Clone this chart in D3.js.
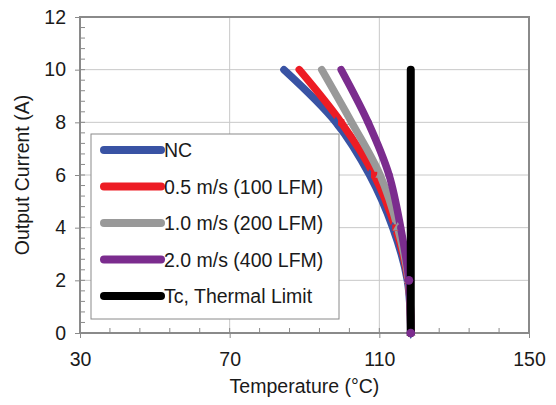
<!DOCTYPE html>
<html>
<head>
<meta charset="utf-8">
<script src="https://cdn.jsdelivr.net/npm/d3@7"></script>
<style>
  body { margin: 0; background: #fff; }
  text { font-family: "Liberation Sans", Arial, sans-serif; fill: #1a1a1a; }
</style>
</head>
<body>
<div id="chart"></div>
<script>
const currents = [0, 2, 4, 6, 8, 10];
const tempNC = [118.4, 117.5, 113.6, 107.4, 98.4, 84.5];
const temp05 = [118.4, 117.7, 114.3, 108.6, 99.8, 88.6];
const temp10 = [118.4, 117.8, 114.9, 110.2, 102.6, 94.6];
const temp20 = [118.4, 117.9, 115.7, 112.6, 107.0, 99.8];
const limitTemp = 118.4;
const limitCurrents = [0, 10];

const seriesNames = ["NC", "0.5 m/s (100 LFM)", "1.0 m/s (200 LFM)", "2.0 m/s (400 LFM)", "Tc, Thermal Limit"];
const seriesColors = ["#3953a4", "#ed1c24", "#999999", "#7b2c8e", "#000000"];
const xTicks = [30, 70, 110, 150];
const yTicks = [0, 2, 4, 6, 8, 10, 12];

const width = 556, height = 405;
const margin = { top: 17, right: 27, bottom: 72, left: 80 };
const innerWidth = width - margin.left - margin.right;
const innerHeight = height - margin.top - margin.bottom;
const fontSize = "19.5px";

const svg = d3.select("#chart").append("svg")
  .attr("width", width)
  .attr("height", height);

const xScale = d3.scaleLinear().domain([30, 150]).range([margin.left, margin.left + innerWidth]);
const yScale = d3.scaleLinear().domain([0, 12]).range([margin.top + innerHeight, margin.top]);

// grid
svg.append("g").selectAll("line")
  .data(yTicks.filter(d => d > 0 && d < 12))
  .join("line")
  .attr("x1", xScale(30)).attr("x2", xScale(150))
  .attr("y1", d => yScale(d)).attr("y2", d => yScale(d))
  .attr("stroke", "#c8c8c8").attr("stroke-width", 1);

svg.append("g").selectAll("line")
  .data(xTicks.filter(d => d > 30 && d < 150))
  .join("line")
  .attr("x1", d => xScale(d)).attr("x2", d => xScale(d))
  .attr("y1", yScale(0)).attr("y2", yScale(12))
  .attr("stroke", "#c8c8c8").attr("stroke-width", 1);

// frame
svg.append("rect")
  .attr("x", xScale(30)).attr("y", yScale(12))
  .attr("width", innerWidth).attr("height", innerHeight)
  .attr("fill", "none").attr("stroke", "#8a8a8a").attr("stroke-width", 2);

// minor ticks
const minorX = d3.range(30, 150.01, 8);
const minorY = d3.range(0, 12.01, 0.4);
svg.append("g").selectAll("line")
  .data(minorX)
  .join("line")
  .attr("x1", d => xScale(d)).attr("x2", d => xScale(d))
  .attr("y1", yScale(0)).attr("y2", yScale(0) - 5)
  .attr("stroke", "#8a8a8a");
svg.append("g").selectAll("line")
  .data(minorY)
  .join("line")
  .attr("x1", xScale(30)).attr("x2", xScale(30) + 5)
  .attr("y1", d => yScale(d)).attr("y2", d => yScale(d))
  .attr("stroke", "#8a8a8a");

// axes
const xAxis = svg.append("g")
  .attr("transform", `translate(0, ${yScale(0)})`)
  .call(d3.axisBottom(xScale).tickValues(xTicks).tickSize(5).tickPadding(14));
const yAxis = svg.append("g")
  .attr("transform", `translate(${xScale(30)}, 0)`)
  .call(d3.axisLeft(yScale).tickValues(yTicks).tickSize(5).tickPadding(9));

[xAxis, yAxis].forEach(g => {
  g.select(".domain").remove();
  g.selectAll("line").attr("stroke", "#8a8a8a");
  g.selectAll("text").style("font-size", fontSize).style("font-family", '"Liberation Sans", Arial, sans-serif').attr("fill", "#1a1a1a");
});

svg.append("text")
  .attr("x", xScale(90)).attr("y", 393)
  .attr("text-anchor", "middle")
  .style("font-size", fontSize)
  .text("Temperature (°C)");

svg.append("text")
  .attr("transform", `translate(29, ${yScale(6)}) rotate(-90)`)
  .attr("text-anchor", "middle")
  .style("font-size", fontSize)
  .text("Output Current (A)");

// curves
const curveData = [tempNC, temp05, temp10, temp20];
const line = d3.line()
  .x(d => xScale(d[0]))
  .y(d => yScale(d[1]))
  .curve(d3.curveCatmullRom.alpha(0.5));

const plot = svg.append("g");

plot.selectAll(".curve")
  .data(curveData)
  .join("path")
  .attr("class", "curve")
  .attr("d", temps => line(temps.map((t, i) => [t, currents[i]])))
  .attr("fill", "none")
  .attr("stroke", (d, i) => seriesColors[i])
  .attr("stroke-width", 7.5)
  .attr("stroke-linecap", "round");

// markers
const symbols = [d3.symbolDiamond, d3.symbolSquare, d3.symbolTriangle, d3.symbolCircle];
curveData.forEach((temps, si) => {
  plot.append("g").selectAll("path")
    .data(temps.map((t, i) => [t, currents[i]]).slice(0, 5))
    .join("path")
    .attr("transform", d => `translate(${xScale(d[0])}, ${yScale(d[1])})`)
    .attr("d", d3.symbol().type(symbols[si]).size(40))
    .attr("fill", seriesColors[si]);
});

// thermal limit
plot.append("path")
  .attr("d", d3.line()(limitCurrents.map(c => [xScale(limitTemp), yScale(c)])))
  .attr("stroke", seriesColors[4])
  .attr("stroke-width", 8)
  .attr("stroke-linecap", "round");

plot.append("g").selectAll("path")
  .data([0, 2])
  .join("path")
  .attr("transform", (c, i) => `translate(${xScale(temp20[i])}, ${yScale(c)})`)
  .attr("d", d3.symbol().type(d3.symbolCircle).size(60))
  .attr("fill", seriesColors[3]);

// legend
const legend = svg.append("g");
legend.append("rect")
  .attr("x", 91).attr("y", 134)
  .attr("width", 248).attr("height", 185)
  .attr("fill", "#fff")
  .attr("stroke", "#8a8a8a").attr("stroke-width", 1);

const rows = legend.selectAll(".row")
  .data(seriesNames)
  .join("g")
  .attr("class", "row")
  .attr("transform", (d, i) => `translate(0, ${150 + i * 36.5})`);

rows.append("line")
  .attr("x1", 104).attr("x2", 161)
  .attr("stroke", (d, i) => seriesColors[i])
  .attr("stroke-width", 8)
  .attr("stroke-linecap", "round");

rows.append("text")
  .attr("x", 164).attr("y", 7)
  .style("font-size", fontSize)
  .text(d => d);
</script>
</body>
</html>
